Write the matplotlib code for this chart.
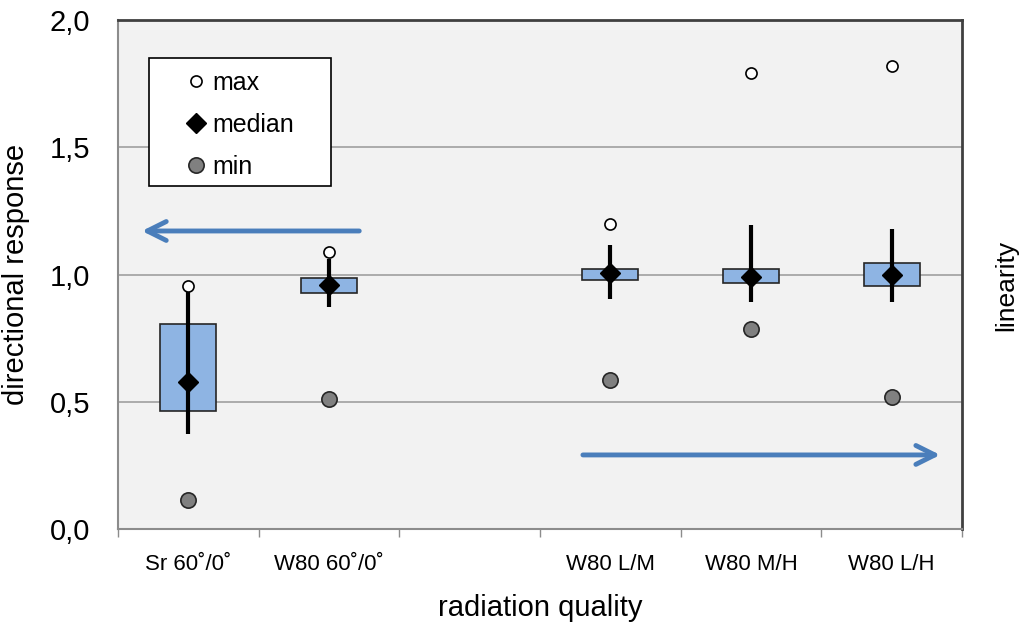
import numpy as np
import matplotlib.pyplot as plt
from matplotlib import font_manager
from matplotlib.patches import Rectangle

# radiation qualities (slot 2 is left empty on purpose)
qualities = ["Sr 60\u02da/0\u02da", "W80 60\u02da/0\u02da", "", "W80 L/M", "W80 M/H", "W80 L/H"]
positions = [0, 1, 3, 4, 5]

# directional response / linearity statistics per quality
q_max = [0.955, 1.088, 1.198, 1.792, 1.819]
q_min = [0.114, 0.511, 0.585, 0.785, 0.520]
median = [0.579, 0.959, 1.005, 0.991, 0.998]
box_low = [0.465, 0.929, 0.978, 0.968, 0.955]
box_high = [0.805, 0.985, 1.021, 1.021, 1.047]
whisk_low = [0.373, 0.872, 0.903, 0.893, 0.891]
whisk_high = [0.940, 1.060, 1.116, 1.195, 1.179]

plt.rcParams['font.family'] = ['Liberation Sans', 'DejaVu Sans']

# narrow face for the category labels if it is around
installed = {f.name for f in font_manager.fontManager.ttflist}
if 'Liberation Sans Narrow' in installed:
    cat_font, cat_size = ['Liberation Sans Narrow', 'Liberation Sans'], 19
else:
    cat_font, cat_size = ['Liberation Sans', 'DejaVu Sans'], 16

fig = plt.figure(figsize=(10.19, 6.27), dpi=100)
ax = fig.add_axes([118/1019, 1 - 529/627, 844/1019, 509/627])
ax.set_facecolor('#f2f2f2')

box_color = '#8eb4e3'
arrow_color = '#4a7ebb'

for y in [0.5, 1.0, 1.5]:
    ax.axhline(y, color='#a0a0a0', lw=1.2, zorder=1)

heights = np.array(box_high) - np.array(box_low)
ax.bar(positions, heights, bottom=box_low, width=0.4, color=box_color,
       edgecolor='#262626', linewidth=1.2, zorder=2)
ax.vlines(positions, whisk_low, whisk_high, color='black', lw=3.0, zorder=3)
ax.plot(positions, median, 'D', color='black', ms=10, zorder=4, label='median')
ax.plot(positions, q_max, 'o', mfc='white', mec='black', mew=1.2, ms=8, zorder=4, label='max')
ax.plot(positions, q_min, 'o', mfc='#808080', mec='#262626', mew=1.2, ms=11, zorder=4, label='min')

# direction arrows
for tip, tail, y in [(-0.33, 1.215, 1.171), (5.345, 2.805, 0.291)]:
    ax.annotate('', xy=(tip, y), xytext=(tail, y),
                arrowprops=dict(arrowstyle='->', lw=3.5, color=arrow_color,
                                mutation_scale=34, shrinkA=0, shrinkB=0,
                                capstyle='round', joinstyle='round'))

ax.set_xlim(-0.5, 5.5)
ax.set_ylim(0, 2.0)
ax.set_yticks([0, 0.5, 1.0, 1.5, 2.0])
ax.set_yticklabels(['0,0', '0,5', '1,0', '1,5', '2,0'], fontsize=21)
ax.tick_params(axis='y', length=0, pad=20)

ax.set_xticks(np.arange(-0.5, 6.0, 1.0))
ax.set_xticklabels([])
ax.set_xticks(np.arange(6), minor=True)
ax.set_xticklabels(qualities, minor=True, fontsize=cat_size, family=cat_font)
ax.tick_params(axis='x', which='major', length=6, color='#8c8c8c', width=1)
ax.tick_params(axis='x', which='minor', length=0, pad=18)

for side in ['top', 'right']:
    ax.spines[side].set_color('#404040')
    ax.spines[side].set_linewidth(2)
for side in ['left', 'bottom']:
    ax.spines[side].set_color('#8c8c8c')
    ax.spines[side].set_linewidth(1.5)

ax.set_xlabel('radiation quality', fontsize=21, labelpad=14)
ax.set_ylabel('directional response', fontsize=21, labelpad=14)
fig.text(1006/1019, 1 - 285/627, 'linearity', rotation=90, fontsize=19,
         ha='center', va='center')

# legend: entries without frame, box drawn on its own so it can be wider
lx0, ly1 = (149 - 118) / 844, (529 - 58) / 509
lx1, ly0 = (331 - 118) / 844, (529 - 186) / 509
ax.add_patch(Rectangle((lx0, ly0), lx1 - lx0, ly1 - ly0, transform=ax.transAxes,
                       facecolor='white', edgecolor='black', lw=1.2, zorder=5))

handles, labels = ax.get_legend_handles_labels()
order = [1, 0, 2]
leg = ax.legend([handles[i] for i in order], [labels[i] for i in order],
                loc='upper left', bbox_to_anchor=(0.0776, 0.900), fontsize=18,
                frameon=False, handlelength=1.0, handletextpad=0.15,
                labelspacing=0.72, borderpad=0, borderaxespad=0)
leg.set_zorder(6)

fig.savefig('out.png', dpi=100)
